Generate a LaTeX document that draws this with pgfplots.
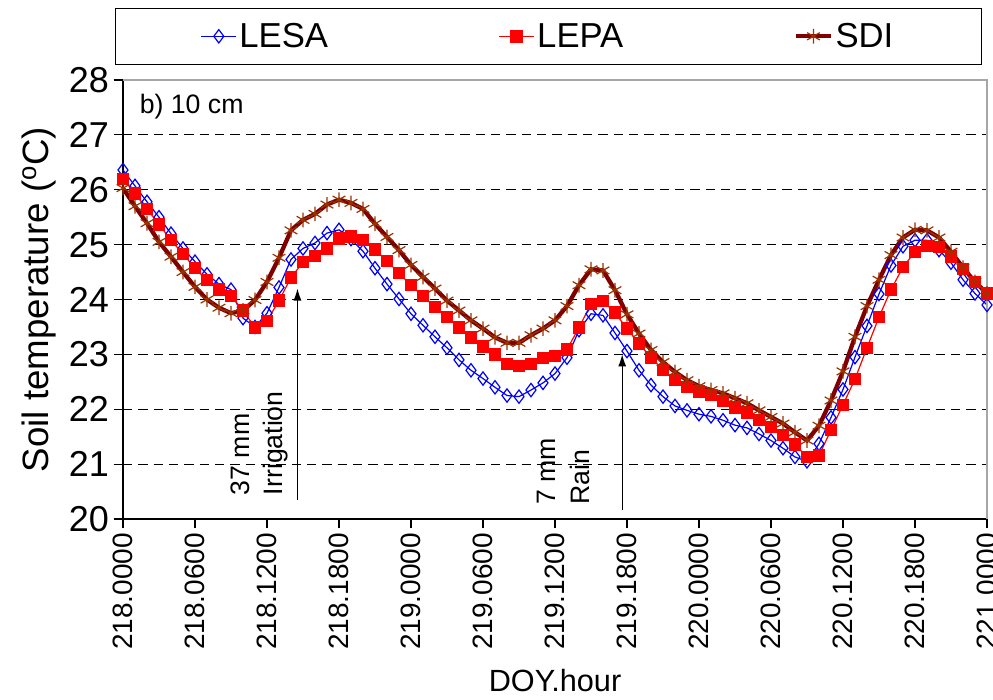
\documentclass[border=0pt]{standalone}
\usepackage{pgfplots}
\usepackage{pgfplotstable}
\pgfplotsset{compat=1.18}
\usetikzlibrary{arrows.meta}
\usepackage{fontspec}
\setmainfont{Liberation Sans}

\definecolor{sdiline}{HTML}{800000}
\definecolor{sdimark}{HTML}{993300}

% hour after 218.0000, soil temperature at 10 cm
\pgfplotstableread{
h  lesa   lepa   sdi
0  26.36  26.20  26.03
1  26.07  25.93  25.70
2  25.78  25.65  25.39
3  25.50  25.37  25.05
4  25.20  25.08  24.78
5  24.93  24.83  24.50
6  24.69  24.57  24.23
7  24.46  24.35  24.00
8  24.28  24.18  23.85
9  24.18  24.06  23.75
10 23.66  23.80  23.80
11 23.50  23.49  23.99
12 23.75  23.61  24.32
13 24.22  23.98  24.76
14 24.73  24.40  25.26
15 24.93  24.68  25.45
16 25.03  24.79  25.56
17 25.21  24.93  25.73
18 25.27  25.11  25.82
19 25.10  25.15  25.76
20 24.88  25.08  25.65
21 24.57  24.91  25.38
22 24.28  24.70  25.14
23 24.01  24.48  24.90
24 23.74  24.26  24.63
25 23.53  24.06  24.41
26 23.32  23.86  24.20
27 23.12  23.68  23.98
28 22.90  23.49  23.80
29 22.71  23.31  23.62
30 22.56  23.14  23.47
31 22.40  23.00  23.31
32 22.25  22.82  23.21
33 22.23  22.79  23.21
34 22.35  22.83  23.35
35 22.48  22.93  23.47
36 22.65  22.97  23.62
37 22.94  23.09  23.88
38 23.44  23.49  24.26
39 23.74  23.92  24.55
40 23.71  23.97  24.53
41 23.39  23.76  24.17
42 23.06  23.47  23.73
43 22.71  23.20  23.38
44 22.44  22.94  23.08
45 22.23  22.72  22.86
46 22.06  22.53  22.68
47 21.98  22.41  22.53
48 21.91  22.32  22.42
49 21.87  22.26  22.35
50 21.80  22.15  22.29
51 21.71  22.03  22.20
52 21.66  21.94  22.11
53 21.55  21.80  21.98
54 21.43  21.68  21.86
55 21.29  21.53  21.74
56 21.13  21.36  21.58
57 21.05  21.13  21.43
58 21.37  21.16  21.70
59 21.85  21.62  22.16
60 22.36  22.08  22.69
61 22.95  22.55  23.32
62 23.52  23.12  23.88
63 24.10  23.68  24.36
64 24.62  24.18  24.81
65 24.97  24.59  25.13
66 25.08  24.87  25.27
67 25.08  24.98  25.26
68 24.90  24.96  25.13
69 24.67  24.78  24.87
70 24.36  24.56  24.58
71 24.11  24.32  24.32
72 23.90  24.11  24.11
}\soiltemp

\begin{document}
\begin{tikzpicture}
\begin{axis}[
  name=ax,
  scale only axis,
  width=648pt, height=329.25pt,
  xmin=0, xmax=72, ymin=20, ymax=28,
  clip=false,
  axis lines*=left,
  axis line style={black, line width=0.9pt},
  tick align=outside,
  major tick length=7pt,
  tick style={black, line width=0.8pt},
  xtick={0,6,...,72},
  xticklabels={218.0000,218.0600,218.1200,218.1800,219.0000,219.0600,219.1200,219.1800,220.0000,220.0600,220.1200,220.1800,221.0000},
  ytick={20,21,...,28},
  /pgf/number format/assume math mode=true,
  xticklabel style={rotate=90, anchor=east, font=\fontsize{21}{25}\selectfont},
  yticklabel style={font=\fontsize{27}{32}\selectfont},
  ymajorgrids,
  major grid style={black, line width=0.6pt, dash pattern=on 7pt off 4.5pt},
  xlabel={DOY.hour},
  ylabel={Soil temperature (\textsuperscript{o}C)},
  xlabel style={font=\fontsize{23}{28}\selectfont, yshift=-8pt},
  ylabel style={font=\fontsize{27.5}{32}\selectfont, yshift=3pt},
  legend columns=3,
  legend cell align=left,
  legend style={at={([xshift=-6pt,yshift=54pt]rel axis cs:0,1)}, anchor=north west,
    draw=black, line width=0.8pt, inner xsep=64pt, inner ysep=9pt,
    font=\fontsize{26}{30}\selectfont,
    /tikz/every even column/.append style={column sep=126pt}},
  legend image code/.code={\draw[mark repeat=2,mark phase=2,#1] plot coordinates {(0pt,0pt) (13pt,0pt) (26pt,0pt)};},
]
\addplot[blue, line width=0.9pt, mark=diamond, mark size=5pt, mark options={solid, blue, line width=0.9pt}]
  table[x=h, y=lesa] {\soiltemp};
\addlegendentry{LESA}
\addplot[red, line width=0.9pt, mark=square*, mark size=4.2pt, mark options={solid, red, fill=red}]
  table[x=h, y=lepa] {\soiltemp};
\addlegendentry{LEPA}
\addplot[sdiline, line width=3.2pt, mark=asterisk, mark size=5.5pt, mark options={solid, draw=sdimark, line width=0.9pt}]
  table[x=h, y=sdi] {\soiltemp};
\addlegendentry{SDI}

\draw[gray!70, line width=0.8pt] (rel axis cs:0,1) -- (rel axis cs:1,1) -- (rel axis cs:1,0);

\node[anchor=west, font=\fontsize{20}{24}\selectfont] at (rel axis cs:0.014,0.94) {b) 10 cm};

\draw[-{Latex[length=9pt,width=6pt]}, line width=0.8pt] (axis cs:14.54,20.35) -- (axis cs:14.54,24.2);
\node[rotate=90, anchor=west, font=\fontsize{20}{24}\selectfont] at (axis cs:9.8,20.35) {37 mm};
\node[rotate=90, anchor=west, font=\fontsize{20}{24}\selectfont] at (axis cs:12.7,20.35) {Irrigation};

\draw[-{Latex[length=9pt,width=6pt]}, line width=0.8pt] (axis cs:41.6,20.17) -- (axis cs:41.6,23.0);
\node[rotate=90, anchor=west, font=\fontsize{20}{24}\selectfont] at (axis cs:35.3,20.17) {7 mm};
\node[rotate=90, anchor=west, font=\fontsize{20}{24}\selectfont] at (axis cs:38.1,20.17) {Rain};
\end{axis}
\pgfresetboundingbox
\path[use as bounding box] ([shift={(-92.25pt,-135.75pt)}]ax.south west) rectangle ([shift={(652.5pt,389.25pt)}]ax.south west);
\end{tikzpicture}
\end{document}
